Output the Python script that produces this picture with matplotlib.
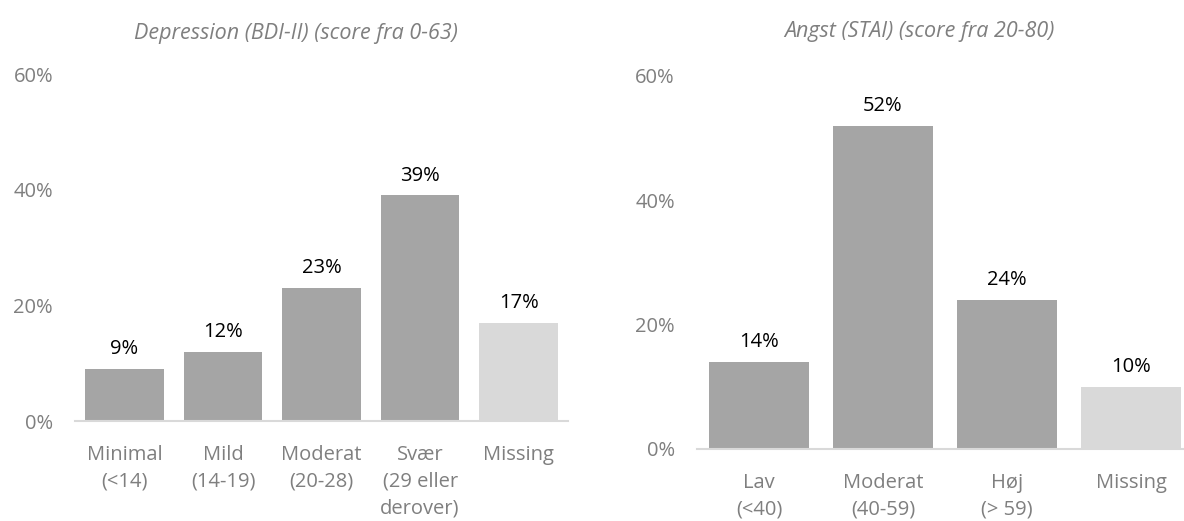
import matplotlib.pyplot as plt

plt.rcParams["font.family"] = ["Open Sans", "DejaVu Sans"]

DARK = "#A5A5A5"
LIGHT = "#D9D9D9"
TEXT_GRAY = "#7F7F7F"

# Depression (BDI-II)
dep_labels = ["Minimal\n(<14)", "Mild\n(14-19)", "Moderat\n(20-28)", "Svær\n(29 eller\nderover)", "Missing"]
dep_values = [0.09, 0.12, 0.23, 0.39, 0.17]
dep_title = "Depression (BDI-II) (score fra 0-63)"

# Angst (STAI)
anx_labels = ["Lav\n(<40)", "Moderat\n(40-59)", "Høj\n(> 59)", "Missing"]
anx_values = [0.14, 0.52, 0.24, 0.10]
anx_title = "Angst (STAI) (score fra 20-80)"

yticks = [0.0, 0.2, 0.4, 0.6]


def draw_panel(ax, labels, values):
    x = range(len(values))
    colors = [DARK] * (len(values) - 1) + [LIGHT]
    bars = ax.bar(x, values, width=0.8, color=colors)
    for b, v in zip(bars, values):
        ax.annotate(f"{v * 100:.0f}%", (b.get_x() + b.get_width() / 2, v),
                    xytext=(0, 7), textcoords="offset points",
                    ha="center", va="bottom", fontsize=14.5, color="black")
    ax.set_xlim(-0.5, len(values) - 0.5)
    ax.set_ylim(0, 0.6)
    ax.set_yticks(yticks)
    ax.set_yticklabels([f"{t * 100:.0f}%" for t in yticks])
    ax.set_xticks(list(x))
    ax.set_xticklabels(labels, linespacing=1.43)
    for s in ["top", "right", "left"]:
        ax.spines[s].set_visible(False)
    ax.spines["bottom"].set_color(LIGHT)
    ax.spines["bottom"].set_linewidth(1.5)
    ax.tick_params(axis="y", length=0, pad=16, labelsize=14.5, labelcolor=TEXT_GRAY)
    ax.tick_params(axis="x", length=0, pad=17.5, labelsize=14.5, labelcolor=TEXT_GRAY)


fig = plt.figure(figsize=(11.84, 5.21), dpi=100)
ax1 = fig.add_axes([0.0636, 0.1919, 0.416, 0.666])
ax2 = fig.add_axes([0.5887, 0.1382, 0.4189, 0.716])

draw_panel(ax1, dep_labels, dep_values)
draw_panel(ax2, anx_labels, anx_values)

fig.text(296 / 1184, 1 - 33 / 521, dep_title, ha="center", va="center",
         style="italic", fontsize=15.5, color=TEXT_GRAY)
fig.text(919 / 1184, 1 - 32 / 521, anx_title, ha="center", va="center",
         style="italic", fontsize=15.5, color=TEXT_GRAY)

fig.savefig("out.png", dpi=100)
